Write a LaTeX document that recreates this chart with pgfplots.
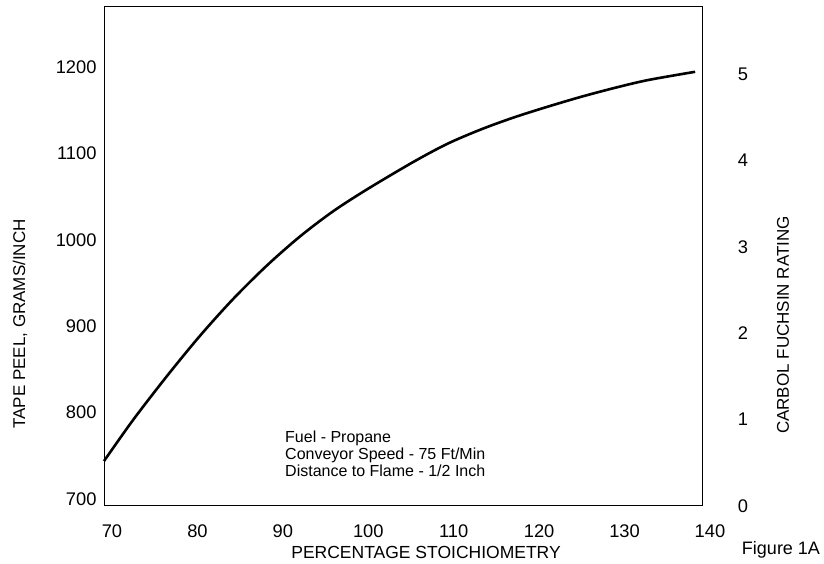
\documentclass[border=0pt]{standalone}
\usepackage{pgfplots}
\pgfplotsset{compat=1.18}
\usepackage{fontspec}
\setmainfont{Liberation Sans}
\begin{document}
\begin{tikzpicture}[x=1pt,y=1pt]
\useasboundingbox (0,0) rectangle (824,564);
\begin{axis}[
  at={(104pt,58pt)}, anchor=south west,
  width=598pt, height=499pt, scale only axis,
  xmin=70, xmax=140, ymin=700, ymax=1277.5,
  axis line style={line width=1pt},
  xtick={70,80,...,140}, ytick={700,800,...,1200},
  major tick length=0pt,
  /pgf/number format/assume math mode=true,
  /pgf/number format/1000 sep={},
  ticklabel style={font=\fontsize{18.3}{22}\selectfont},
  xticklabel style={xshift=8pt, yshift=-15pt},
  yticklabel style={xshift=-4pt, yshift=7pt},
  clip=false,
]
\addplot[black, line width=2.6pt, smooth] coordinates {
(70.0,752) (73.40,799.5) (77.38,850.5) (81.24,897) (85.11,939.5)
(89.09,978.5) (92.95,1012) (96.81,1041) (100.80,1066.5) (106.18,1098)
(110.16,1119) (114.05,1135.5) (117.92,1149.5) (121.90,1162) (125.76,1173.3)
(129.63,1183.5) (133.61,1192.8) (139.20,1202.5)
};
\end{axis}
\begin{axis}[
  at={(104pt,58pt)}, anchor=south west,
  width=598pt, height=499pt, scale only axis,
  xmin=70, xmax=140, ymin=0, ymax=5.775,
  axis x line=none, axis y line*=right,
  axis line style={line width=1pt},
  ytick={0,1,...,5},
  major tick length=0pt,
  /pgf/number format/assume math mode=true,
  ticklabel style={font=\fontsize{18.3}{22}\selectfont},
  yticklabel style={anchor=center, xshift=41pt},
]
\addplot[draw=none] coordinates {(70,0)};
\end{axis}
\node[rotate=90, font=\fontsize{17}{20}\selectfont] at (20,240) {TAPE PEEL, GRAMS/INCH};
\node[rotate=90, font=\fontsize{17}{20}\selectfont] at (783,239) {CARBOL FUCHSIN RATING};
\node[font=\fontsize{17.5}{21}\selectfont] at (426,12) {PERCENTAGE STOICHIOMETRY};
\node[font=\fontsize{18}{21}\selectfont] at (781,14) {Figure 1A};
\node[anchor=base west, inner sep=0pt, font=\fontsize{16}{17}\selectfont] at (285,121) {Fuel - Propane};
\node[anchor=base west, inner sep=0pt, font=\fontsize{16}{17}\selectfont] at (285,104) {Conveyor Speed - 75 Ft/Min};
\node[anchor=base west, inner sep=0pt, font=\fontsize{16}{17}\selectfont] at (285,87) {Distance to Flame - 1/2 Inch};
\end{tikzpicture}
\end{document}
